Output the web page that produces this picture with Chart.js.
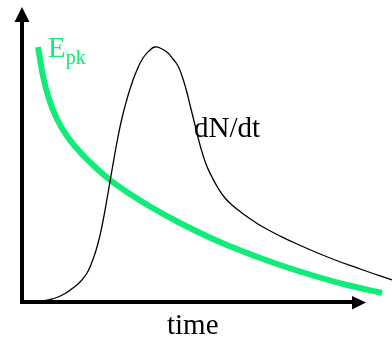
<!DOCTYPE html>
<html>
<head>
<meta charset="utf-8">
<script src="https://cdn.jsdelivr.net/npm/chart.js@4"></script>
<style>
  html, body { margin: 0; padding: 0; background: #fff; }
  canvas { display: block; }
</style>
</head>
<body>
<canvas id="pulse-chart" width="392" height="344"></canvas>
<script>
// values (arbitrary units)
const dndtTime  = [2, 18, 28, 36, 44, 51, 58, 65, 70, 75, 80, 85, 90, 95, 100, 105, 110, 115, 121, 127, 133, 140, 146, 151, 156, 160, 164, 168, 173, 178, 184, 190, 196, 203, 210, 220, 230, 241, 258, 275, 308, 341, 370];
const dndtValue = [1, 1, 2.5, 5, 9, 14, 20, 29, 40, 55, 76, 103, 132, 160, 184, 203, 219, 232, 244, 251, 255, 253, 249, 243, 236, 226, 213, 197, 177, 157, 138, 125, 114, 104, 97, 89, 82, 75, 66, 58, 44, 32, 22];

const epkTime  = [16, 21, 27, 35, 45, 58, 73, 88, 108, 128, 158, 191, 225, 258, 291, 325, 360];
const epkValue = [255, 226, 203, 183, 166, 150, 135, 122, 108, 95.5, 79, 63, 49, 37, 26.5, 17, 9];

const timeMax = 370;
const valueMax = 302;
const timeArrowEnd = 344;
const valueArrowEnd = 295;

const green = '#10ec78';

function toPoints(X=[], Y=[]){
    return X.map((x, i) => ({x: x, y: Y[i]}));
}

// draws arrows, axis lines and the text labels
const arrowAxes = {
    id: 'arrowAxes',
    afterDatasetsDraw(chart){
        const ctx = chart.ctx;
        const xs = chart.scales.x;
        const ys = chart.scales.y;
        const x0 = xs.getPixelForValue(0);
        const y0 = ys.getPixelForValue(0);
        const xEnd = xs.getPixelForValue(timeArrowEnd);
        const yEnd = ys.getPixelForValue(valueArrowEnd);

        ctx.save();
        ctx.fillStyle = '#000';
        // y axis
        ctx.fillRect(x0 - 2, yEnd + 14, 4, y0 - yEnd - 12);
        ctx.beginPath();
        ctx.moveTo(x0, yEnd);
        ctx.lineTo(x0 - 7.5, yEnd + 15);
        ctx.lineTo(x0 + 7.5, yEnd + 15);
        ctx.closePath();
        ctx.fill();
        // x axis
        ctx.fillRect(x0 - 2, y0 - 2, xEnd - x0 - 12, 4);
        ctx.beginPath();
        ctx.moveTo(xEnd, y0 + 0.5);
        ctx.lineTo(xEnd - 14, y0 - 6);
        ctx.lineTo(xEnd - 14, y0 + 7.5);
        ctx.closePath();
        ctx.fill();

        // labels
        ctx.textBaseline = 'alphabetic';
        ctx.textAlign = 'left';
        ctx.fillStyle = '#000';
        ctx.font = '29px "Liberation Serif", serif';
        ctx.fillText('time', xs.getPixelForValue(145), y0 + 32);
        ctx.fillText('dN/dt', xs.getPixelForValue(172), ys.getPixelForValue(165));

        ctx.fillStyle = green;
        ctx.fillText('E', xs.getPixelForValue(26), ys.getPixelForValue(245));
        const eWidth = ctx.measureText('E').width;
        ctx.font = '20px "Liberation Serif", serif';
        ctx.fillText('pk', xs.getPixelForValue(26) + eWidth, ys.getPixelForValue(238));
        ctx.restore();
    }
};

const pulseCanvas = document.querySelector('#pulse-chart').getContext('2d');

const pulseGraph = new Chart(pulseCanvas, {
    type: 'line',
    data: {
        datasets: [
            {
                label: 'dN/dt',
                data: toPoints(dndtTime, dndtValue),
                borderColor: '#000',
                borderWidth: 1.3,
                pointRadius: 0,
                tension: 0.5,
                clip: false
            },
            {
                label: 'Epk',
                data: toPoints(epkTime, epkValue),
                borderColor: green,
                borderWidth: 6,
                pointRadius: 0,
                tension: 0.4,
                cubicInterpolationMode: 'monotone',
                clip: false
            }
        ]
    },
    options: {
        responsive: false,
        animation: false,
        devicePixelRatio: 1,
        layout: {
            padding: {left: 22, right: 0, top: 0, bottom: 42}
        },
        plugins: {
            legend: {display: false},
            tooltip: {enabled: false}
        },
        scales: {
            x: {
                type: 'linear',
                display: false,
                min: 0,
                max: timeMax
            },
            y: {
                display: false,
                min: 0,
                max: valueMax
            }
        }
    },
    plugins: [arrowAxes]
});
</script>
</body>
</html>
